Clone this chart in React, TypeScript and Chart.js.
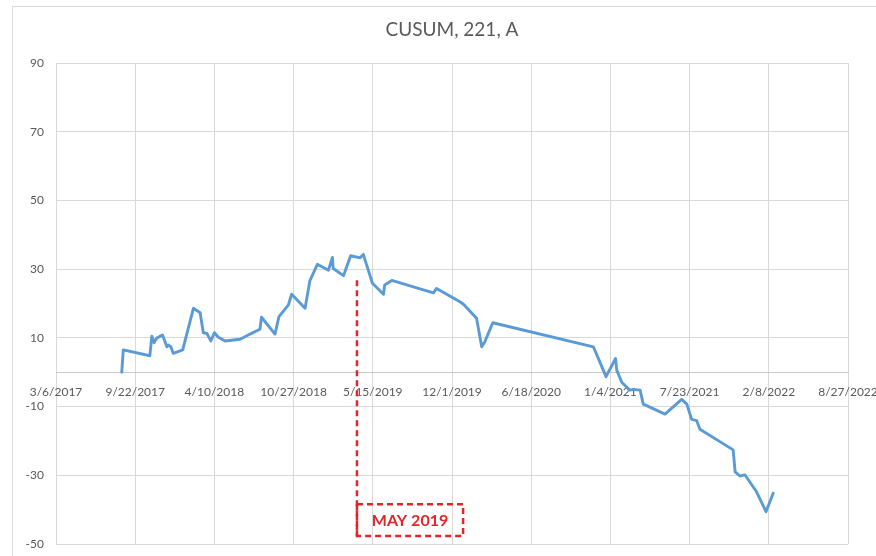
import { useEffect, useRef } from 'react';
import { Chart, registerables } from 'chart.js';

Chart.register(...registerables);

const chartTitle = 'CUSUM, 221, A';

const dates = [
  '2017-08-19', '2017-08-23', '2017-10-29', '2017-11-03', '2017-11-09', '2017-11-15', '2017-11-24', '2017-11-30',
  '2017-12-11', '2017-12-15', '2017-12-21', '2017-12-27',
  '2018-01-20', '2018-02-16', '2018-03-05', '2018-03-13', '2018-03-22', '2018-04-01', '2018-04-10', '2018-04-20',
  '2018-05-07', '2018-06-14', '2018-07-09', '2018-08-03', '2018-08-07', '2018-09-10', '2018-09-20', '2018-10-14',
  '2018-10-22', '2018-11-25', '2018-12-07', '2018-12-26',
  '2019-01-23', '2019-02-02', '2019-02-04', '2019-03-02', '2019-03-20', '2019-04-13', '2019-04-21', '2019-05-14',
  '2019-06-11', '2019-06-14', '2019-07-02', '2019-10-15', '2019-10-23', '2019-12-21', '2019-12-30',
  '2020-02-01', '2020-02-14', '2020-02-22', '2020-03-13', '2020-11-22', '2020-12-24',
  '2021-01-17', '2021-01-20', '2021-02-02', '2021-02-22', '2021-03-03', '2021-03-20', '2021-03-28', '2021-05-22',
  '2021-07-03', '2021-07-16', '2021-07-28', '2021-08-10', '2021-08-18', '2021-11-10', '2021-11-15', '2021-11-27',
  '2021-12-10',
  '2022-01-08', '2022-02-01', '2022-02-19',
];

const cusum = [
  0, 6.5, 4.8, 10.5, 8.6, 9.9, 10.5, 10.8,
  7.4, 7.9, 7.4, 5.5,
  6.5, 18.6, 17.3, 11.5, 11.3, 9.1, 11.5, 10.2,
  9.1, 9.6, 11.1, 12.5, 16, 11.1, 16.2, 19.6,
  22.7, 18.6, 26.6, 31.4,
  29.7, 33.4, 30.2, 28.1, 33.9, 33.3, 34.3, 25.9,
  22.7, 25.4, 26.7, 23.1, 24.4, 20.5, 19.8,
  15.7, 7.4, 8.9, 14.4, 7.4, -1.3,
  4.0, 0.6, -3.0, -5.2, -5.0, -5.2, -9.3, -12.2,
  -7.9, -9.3, -13.7, -14.1, -16.6, -22.6, -29, -30.2,
  -29.9,
  -34.8, -40.6, -35.2,
];

// axis setup
const xStartDate = '2017-03-06';
const xStepDays = 200;
const xSteps = 10;
const yMin = -50;
const yMax = 90;
const yStep = 20;

// annotation (in data space)
const markerLabel = 'MAY 2019';
const markerDate = '2019-04-05';
const markerTopValue = 26.8;
const boxEndDate = '2019-12-29';
const boxTopValue = -38.4;
const boxBottomValue = -47.7;

const DAY = 86400000;
const toDay = (s: string) => {
  const [y, m, d] = s.split('-').map(Number);
  return Date.UTC(y, m - 1, d) / DAY;
};
const fmtDay = (v: number) => {
  const dt = new Date(Math.round(v) * DAY);
  return `${dt.getUTCMonth() + 1}/${dt.getUTCDate()}/${dt.getUTCFullYear()}`;
};

const RED = '#e3242b';

const annotationPlugin = {
  id: 'mayAnnotation',
  afterDatasetsDraw(chart: any) {
    const { ctx, scales } = chart;
    const x = scales.x;
    const y = scales.y;
    const lx = x.getPixelForValue(toDay(markerDate));
    const rx = x.getPixelForValue(toDay(boxEndDate));
    const ty = y.getPixelForValue(markerTopValue);
    const by = y.getPixelForValue(boxBottomValue);
    const bty = y.getPixelForValue(boxTopValue);
    ctx.save();
    ctx.strokeStyle = RED;
    ctx.lineWidth = 2.5;
    ctx.setLineDash([6, 4]);
    ctx.beginPath();
    ctx.moveTo(lx, ty);
    ctx.lineTo(lx, by);
    ctx.stroke();
    ctx.strokeRect(lx, bty, rx - lx, by - bty);
    ctx.setLineDash([]);
    ctx.fillStyle = RED;
    ctx.font = 'bold 16px Lato';
    ctx.textAlign = 'center';
    ctx.textBaseline = 'middle';
    ctx.fillText(markerLabel, (lx + rx) / 2, (bty + by) / 2 + 1);
    ctx.restore();
  },
};

export default function App() {
  const ref = useRef<HTMLCanvasElement>(null);

  useEffect(() => {
    const canvas = ref.current;
    if (!canvas) return;
    const xMin = toDay(xStartDate);
    const xMax = xMin + xStepDays * xSteps;
    const chart = new Chart(canvas, {
      type: 'line',
      data: {
        datasets: [
          {
            label: chartTitle,
            data: dates.map((d, i) => ({ x: toDay(d), y: cusum[i] })),
            borderColor: '#5b9bd5',
            borderWidth: 2.9,
            borderJoinStyle: 'round',
            borderCapStyle: 'round',
            pointRadius: 0,
            tension: 0,
            fill: false,
          },
        ],
      },
      options: {
        animation: false,
        responsive: false,
        maintainAspectRatio: false,
        devicePixelRatio: 1,
        layout: { padding: { left: 0, right: 28, top: 0, bottom: 12 } },
        plugins: {
          legend: { display: false },
          tooltip: { enabled: false },
          title: {
            display: true,
            fullSize: false,
            text: chartTitle,
            color: '#595959',
            font: { family: 'Lato', size: 19, weight: 'normal' },
            padding: { top: 18, bottom: 22.2 },
          },
        },
        scales: {
          x: {
            type: 'linear',
            position: { y: 0 },
            min: xMin,
            max: xMax,
            ticks: {
              stepSize: xStepDays,
              autoSkip: false,
              maxRotation: 0,
              color: '#595959',
              font: { family: 'Lato', size: 12 },
              padding: 13,
              callback: (v: any) => fmtDay(Number(v)),
            },
            grid: { color: '#d9d9d9', lineWidth: 1, drawTicks: false },
            border: { color: '#c8c8c8', width: 1 },
            afterFit: (s: any) => {
              s.height = 0;
              s.paddingLeft = 0;
              s.paddingRight = 0;
            },
          },
          y: {
            type: 'linear',
            min: yMin,
            max: yMax,
            ticks: {
              stepSize: yStep,
              color: '#595959',
              font: { family: 'Lato', size: 12 },
              padding: 12,
            },
            grid: { color: '#d9d9d9', lineWidth: 1, drawTicks: false },
            border: { display: false },
            afterFit: (s: any) => {
              s.width = 56;
              s.paddingTop = 0;
              s.paddingBottom = 0;
            },
          },
        },
      },
      plugins: [annotationPlugin],
    } as any);
    return () => chart.destroy();
  }, []);

  return (
    <div
      style={{
        position: 'fixed',
        left: 0,
        top: 0,
        width: 876,
        height: 556,
        background: '#fff',
        overflow: 'hidden',
      }}
    >
      <div
        style={{
          position: 'absolute',
          left: 12,
          top: 6,
          width: 880,
          height: 560,
          border: '1px solid #d9d9d9',
          boxSizing: 'border-box',
        }}
      />
      <canvas
        ref={ref}
        width={876}
        height={556}
        style={{ position: 'absolute', left: 0, top: 0, width: 876, height: 556 }}
      />
    </div>
  );
}
